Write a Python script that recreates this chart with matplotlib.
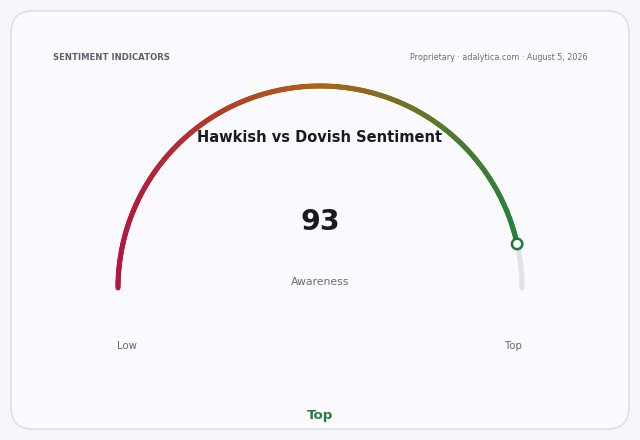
import numpy as np
import matplotlib
matplotlib.use("Agg")
import matplotlib.pyplot as plt
from matplotlib.collections import LineCollection
from matplotlib.colors import LinearSegmentedColormap
from matplotlib.patches import FancyBboxPatch, Circle

# ---- data ----
header_left = "SENTIMENT INDICATORS"
header_right = "Proprietary · adalytica.com · August 5, 2026"
title = "Hawkish vs Dovish Sentiment"
value = 93
vmin, vmax = 0, 100
metric_label = "Awareness"
end_labels = ["Low", "Top"]
status_label = "Top"
gradient_colors = ["#b3173f", "#ad6414", "#23843a"]

fig = plt.figure(figsize=(6.4, 4.4), dpi=100)
fig.patch.set_facecolor("#f6f6fa")
ax = fig.add_axes([0, 0, 1, 1])
ax.set_xlim(0, 640)
ax.set_ylim(440, 0)
ax.set_aspect("equal")
ax.axis("off")

card = FancyBboxPatch((11, 11), 618, 418, boxstyle="round,pad=0,rounding_size=22",
                      facecolor="#fafafe", edgecolor="#dcdce4", linewidth=1.0)
ax.add_patch(card)

ax.text(53, 58, header_left, fontsize=6.1, fontweight="bold", color="#5b5f72",
        ha="left", va="center")
ax.text(587, 58, header_right, fontsize=5.75, color="#686c7e", ha="right", va="center")

# gauge
cx, cy, r = 320, 288, 202
frac = (value - vmin) / (vmax - vmin)
cmap = LinearSegmentedColormap.from_list("g", gradient_colors)

# background track (remaining)
th_bg = np.linspace(np.pi * (1 - frac), 0, 60)
ax.plot(cx + r * np.cos(th_bg), cy - r * np.sin(th_bg), color="#e1e1e7",
        linewidth=3.6, solid_capstyle="round", zorder=2)

th = np.linspace(np.pi, np.pi * (1 - frac), 400)
xs = cx + r * np.cos(th)
ys = cy - r * np.sin(th)
pts = np.column_stack([xs, ys]).reshape(-1, 1, 2)
segs = np.concatenate([pts[:-1], pts[1:]], axis=1)
tpos = (xs[:-1] - (cx - r)) / (2 * r)
lc = LineCollection(segs, colors=cmap(tpos), linewidths=3.6, capstyle="round", zorder=3)
ax.add_collection(lc)

mx, my = xs[-1], ys[-1]
ax.add_patch(Circle((mx, my), 5.2, facecolor="white", edgecolor="#1f7a3a",
                    linewidth=1.8, zorder=4))

ax.text(320, 137, title, fontsize=10.5, fontweight="bold", color="#1a1a22",
        ha="center", va="center", zorder=5)
ax.text(320, 222, f"{value}", fontsize=20.4, fontweight="bold", color="#1a1a22",
        ha="center", va="center")
ax.text(320, 282, metric_label, fontsize=7.8, color="#676b7c", ha="center", va="center")
ax.text(127, 346, end_labels[0], fontsize=7.3, color="#62666f", ha="center", va="center")
ax.text(513, 346, end_labels[1], fontsize=7.3, color="#62666f", ha="center", va="center")
ax.text(320, 415, status_label, fontsize=9.6, fontweight="bold", color="#2a7a45",
        ha="center", va="center")

fig.savefig("out.png", dpi=100, facecolor=fig.get_facecolor())
